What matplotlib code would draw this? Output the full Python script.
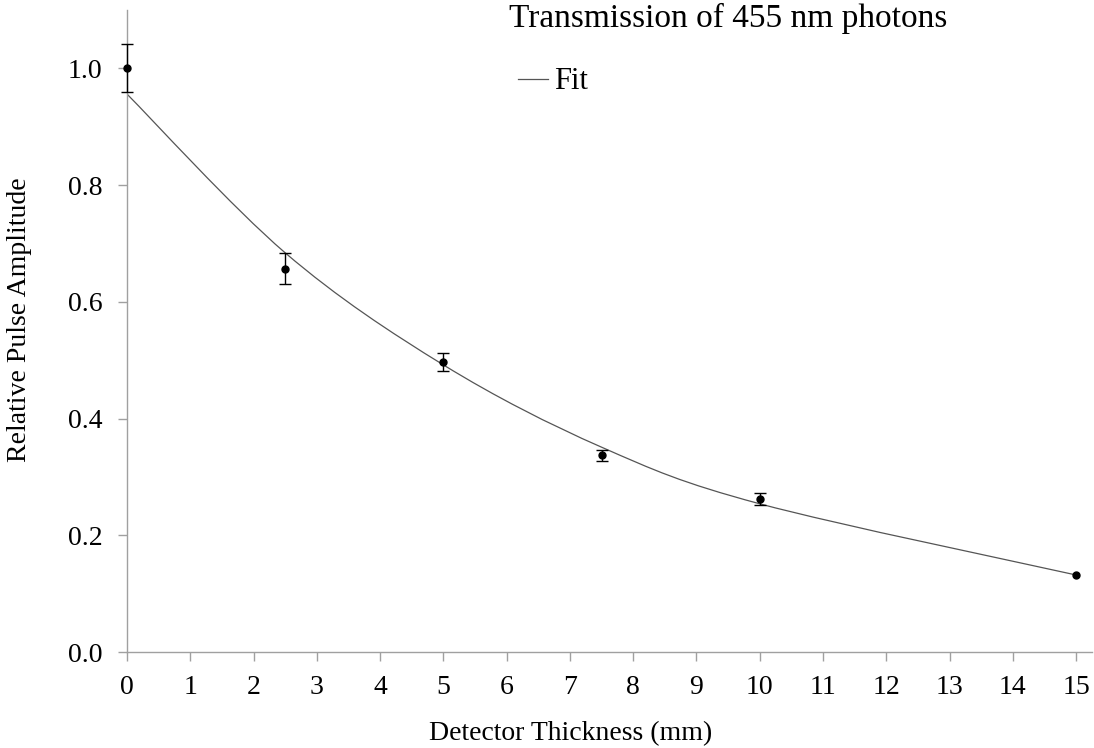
import matplotlib
matplotlib.use('Agg')
import matplotlib.pyplot as plt
from matplotlib.path import Path
from matplotlib.patches import PathPatch
from matplotlib.lines import Line2D

# measured points
thickness = [0, 2.5, 5, 7.5, 10, 15]
amplitude = [1.0, 0.657, 0.497, 0.337, 0.262, 0.132]
amp_err = [0.041, 0.027, 0.015, 0.010, 0.010, 0.0]

# fit curve values at the same thicknesses
fit_x = [0, 2.5, 5, 7.5, 10, 15]
fit_y = [0.956, 0.684, 0.492, 0.351, 0.254, 0.132]

x_ticks = list(range(0, 16))
y_ticks = [0.0, 0.2, 0.4, 0.6, 0.8, 1.0]

plt.rcParams['font.family'] = ['Liberation Serif', 'DejaVu Serif']

fig = plt.figure(figsize=(10.94, 7.48), dpi=100)
ax = fig.add_axes([0.1161, 0.1283, 0.882, 0.8583])

# smoothed line through fit values (spreadsheet-style "smooth line")
verts = [(fit_x[0], fit_y[0])]
codes = [Path.MOVETO]
n = len(fit_x)
for i in range(n - 1):
    p0 = (fit_x[max(i - 1, 0)], fit_y[max(i - 1, 0)])
    p1 = (fit_x[i], fit_y[i])
    p2 = (fit_x[i + 1], fit_y[i + 1])
    p3 = (fit_x[min(i + 2, n - 1)], fit_y[min(i + 2, n - 1)])
    c1 = (p1[0] + (p2[0] - p0[0]) / 6, p1[1] + (p2[1] - p0[1]) / 6)
    c2 = (p2[0] - (p3[0] - p1[0]) / 6, p2[1] - (p3[1] - p1[1]) / 6)
    verts += [c1, c2, p2]
    codes += [Path.CURVE4] * 3
ax.add_patch(PathPatch(Path(verts, codes), facecolor='none', edgecolor='#555555', lw=0.9, zorder=2))

# error bars only where there is an uncertainty
ex = [x for x, e in zip(thickness, amp_err) if e > 0]
ey = [y for y, e in zip(amplitude, amp_err) if e > 0]
ee = [e for e in amp_err if e > 0]
ax.errorbar(ex, ey, yerr=ee, fmt='none', ecolor='black', elinewidth=1.0,
            capsize=4, capthick=1.0, zorder=3, clip_on=False)
ax.plot(thickness, amplitude, 'o', color='black', ms=5, zorder=4, clip_on=False)

ax.set_xlim(0, 15.25)
ax.set_ylim(0, 1.1)
ax.set_xticks(x_ticks)
ax.set_yticks(y_ticks)
ax.set_yticklabels([f'{v:.1f}' for v in y_ticks])

for s in ['top', 'right']:
    ax.spines[s].set_visible(False)
for s in ['left', 'bottom']:
    ax.spines[s].set_color('#a0a0a0')
    ax.spines[s].set_linewidth(1.0)
ax.tick_params(axis='both', direction='out', length=6.5, width=1.0, color='#a0a0a0',
               labelsize=20, labelcolor='black')
ax.tick_params(axis='y', pad=11)
ax.tick_params(axis='x', pad=10)

ax.set_xlabel('Detector Thickness (mm)', fontsize=20)
ax.set_ylabel('Relative Pulse Amplitude', fontsize=20)
ax.xaxis.set_label_coords(0.46, -0.108)
ax.yaxis.set_label_coords(-0.098, 0.517)

fig.text(0.666, 0.975, 'Transmission of 455 nm photons', fontsize=24, ha='center', va='center')

handle = Line2D([], [], color='#555555', lw=0.9)
ax.legend([handle], ['Fit'], loc='center left', bbox_to_anchor=(0.405, 0.888), frameon=False,
          fontsize=22, handlelength=1.0, handletextpad=0.2, borderpad=0, borderaxespad=0)

fig.savefig('out.png', dpi=100)
